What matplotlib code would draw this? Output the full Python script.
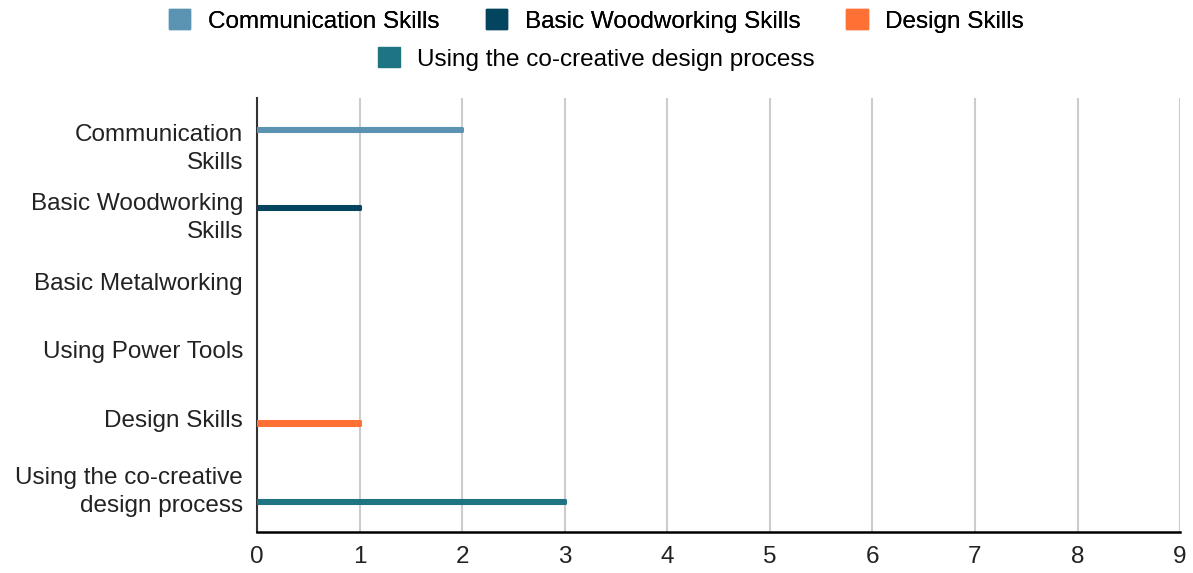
import matplotlib.pyplot as plt
import numpy as np
from matplotlib.patches import Patch

plt.rcParams['font.family'] = ['Liberation Sans', 'DejaVu Sans']

categories = ['Communication\nSkills', 'Basic Woodworking\nSkills', 'Basic Metalworking',
              'Using Power Tools', 'Design Skills', 'Using the co-creative\ndesign process']
series = ['Communication Skills', 'Basic Woodworking Skills', 'Design Skills',
          'Using the co-creative design process']
values = [
  [2, 0, 0, 0, 0, 0],
  [0, 1, 0, 0, 0, 0],
  [0, 0, 0, 0, 1, 0],
  [0, 0, 0, 0, 0, 3],
]
colors = ['#5b94b3', '#03455f', '#ff7034', '#1e7482']
fs = 17.5

fig = plt.figure(figsize=(11.93, 5.73), dpi=100)
ax = fig.add_axes([0.2154, 0.0716, 0.7738, 0.7574])

y = np.arange(len(categories))
slot = 0.142
for i, (name, vals) in enumerate(zip(series, values)):
  offs = (i - 1.5) * slot
  v = np.array(vals, dtype=float)
  mask = v > 0
  ax.barh(y[mask] + offs, v[mask], height=0.05, color=colors[i],
          edgecolor=colors[i], linewidth=2.2, joinstyle='round', zorder=3)

ax.set_xlim(0, 9)
ax.set_ylim(5.66, -0.67)
ax.set_xticks(range(10))
ax.set_yticks(y)
ax.set_yticklabels(categories, fontsize=fs, color='#222222', linespacing=1.35)
ax.tick_params(axis='x', labelsize=fs, colors='#222222', length=0, pad=10)
ax.tick_params(axis='y', length=0, pad=10)
ax.xaxis.grid(True, color='#cccccc', linewidth=1.5, zorder=0)
for s in ['top', 'right']:
  ax.spines[s].set_visible(False)
ax.spines['left'].set_color('#333333')
ax.spines['left'].set_linewidth(1.5)
ax.spines['bottom'].set_color('#000000')
ax.spines['bottom'].set_linewidth(1.8)
ax.set_axisbelow(True)

handles = [Patch(facecolor=c, edgecolor=c) for c in colors]
leg1 = fig.legend(handles[:3], series[:3], loc='center', bbox_to_anchor=(0.5, 1 - 21 / 573),
                  ncol=3, frameon=False, fontsize=fs, handlelength=0.88, handleheight=0.88,
                  columnspacing=1.9, handletextpad=0.72)
leg2 = fig.legend(handles[3:], series[3:], loc='center', bbox_to_anchor=(0.5, 1 - 59 / 573),
                  frameon=False, fontsize=fs, handlelength=0.88, handleheight=0.88,
                  handletextpad=0.72)
fig.add_artist(leg1)

fig.savefig('out.png', dpi=100)
